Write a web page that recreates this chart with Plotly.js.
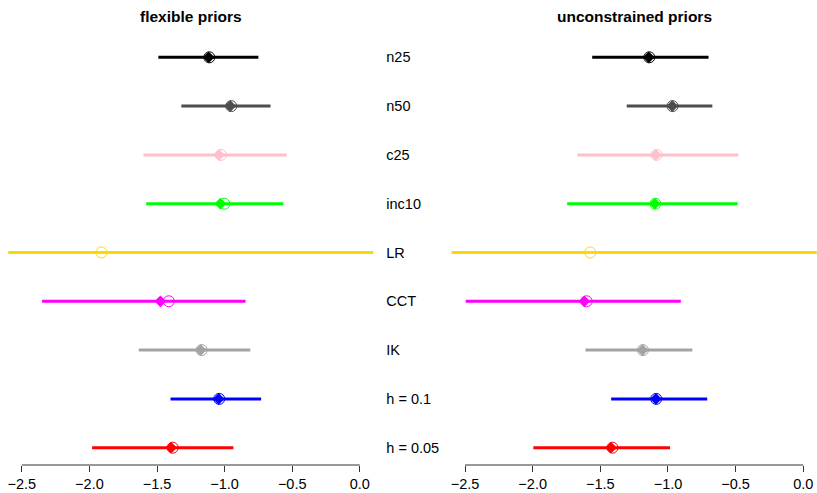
<!DOCTYPE html>
<html>
<head>
<meta charset="utf-8">
<script src="https://cdn.plot.ly/plotly-3.0.1.min.js"></script>
<style>html,body{margin:0;padding:0;background:#fff;}#chart{width:817px;height:493px;}</style>
</head>
<body>
<div id="chart"></div>
<script>
// Rows, top to bottom
const categories = ["n25", "n50", "c25", "inc10", "LR", "CCT", "IK", "h = 0.1", "h = 0.05"];
const colors = ["#000000", "#4D4D4D", "#FFC0CB", "#00FF00", "#FFD700", "#FF00FF", "#A3A3A3", "#0000FF", "#FF0000"];
const panelTitles = ["flexible priors", "unconstrained priors"];
const tickValues = [-2.5, -2.0, -1.5, -1.0, -0.5, 0.0];

// flexible priors
const flexLower    = [-1.49, -1.32, -1.60, -1.58, -2.90, -2.35, -1.635, -1.40, -1.98];
const flexUpper    = [-0.75, -0.66, -0.54, -0.565, 0.40, -0.845, -0.81, -0.73, -0.935];
const flexDiamond  = [-1.118, -0.958, -1.041, -1.032, null, -1.475, -1.177, -1.044, -1.396];
const flexCircle   = [-1.113, -0.951, -1.027, -1.002, -1.911, -1.413, -1.170, -1.040, -1.384];

// unconstrained priors
const uncLower     = [-1.56, -1.305, -1.67, -1.745, -2.90, -2.495, -1.61, -1.42, -1.995];
const uncUpper     = [-0.70, -0.672, -0.48, -0.485, 0.40, -0.905, -0.82, -0.71, -0.985];
const uncDiamond   = [-1.142, -0.968, -1.089, -1.097, null, -1.619, -1.188, -1.089, -1.421];
const uncCircle    = [-1.138, -0.966, -1.085, -1.093, -1.574, -1.601, -1.185, -1.087, -1.410];

const FONT = "Liberation Sans, Arial, Helvetica, sans-serif";
const traces = [];
function addPanel(lo, hi, dia, circ, xa, ya) {
  for (let i = 0; i < categories.length; i++) {
    traces.push({
      type: "scatter", mode: "lines", xaxis: xa, yaxis: ya,
      x: [lo[i], hi[i]], y: [categories[i], categories[i]],
      line: {color: colors[i], width: 3}, hoverinfo: "skip", showlegend: false
    });
  }
  traces.push({
    type: "scatter", mode: "markers", xaxis: xa, yaxis: ya,
    x: dia, y: categories,
    marker: {symbol: "diamond", size: 9, color: colors, line: {width: 0}},
    showlegend: false, hoverinfo: "skip", cliponaxis: true
  });
  traces.push({
    type: "scatter", mode: "markers", xaxis: xa, yaxis: ya,
    x: circ, y: categories,
    marker: {symbol: "circle-open", size: 11, color: colors, line: {width: 1, color: colors}},
    showlegend: false, hoverinfo: "skip", cliponaxis: true
  });
}
addPanel(flexLower, flexUpper, flexDiamond, flexCircle, "x", "y");
addPanel(uncLower, uncUpper, uncDiamond, uncCircle, "x2", "y2");

const catOrder = categories.slice().reverse();
const xBase = {
  range: [-2.6, 0.1], showgrid: false, zeroline: false, showline: false,
  ticks: "outside", ticklen: 6, tickcolor: "#333", tickwidth: 1,
  tickvals: tickValues, tickformat: ".1f",
  tickfont: {family: FONT, size: 14.5, color: "#000"}, fixedrange: true
};
const W = 817;
const layout = {
  width: 817, height: 493,
  margin: {l: 0, r: 0, t: 40.4, b: 28},
  paper_bgcolor: "#fff", plot_bgcolor: "#fff",
  showlegend: false,
  xaxis: Object.assign({}, xBase, {domain: [8.3 / W, 373.3 / W], anchor: "y"}),
  xaxis2: Object.assign({}, xBase, {domain: [451.5 / W, 816.8 / W], anchor: "y2"}),
  yaxis: {
    type: "category", categoryorder: "array", categoryarray: catOrder,
    range: [-0.355, 8.355], side: "right", anchor: "x",
    showgrid: false, zeroline: false, showline: false, ticks: "",
    ticklabelstandoff: 12,
    tickfont: {family: FONT, size: 14.5, color: "#000"}, fixedrange: true
  },
  yaxis2: {
    type: "category", categoryorder: "array", categoryarray: catOrder,
    range: [-0.355, 8.355], anchor: "x2",
    showgrid: false, zeroline: false, showline: false, ticks: "",
    showticklabels: false, fixedrange: true
  },
  shapes: [
    {type: "line", xref: "x", yref: "paper", x0: tickValues[0], x1: tickValues[tickValues.length - 1], y0: 0, y1: 0, line: {color: "#333", width: 1}},
    {type: "line", xref: "x2", yref: "paper", x0: tickValues[0], x1: tickValues[tickValues.length - 1], y0: 0, y1: 0, line: {color: "#333", width: 1}}
  ],
  annotations: [
    {text: "<b>" + panelTitles[0] + "</b>", xref: "x domain", yref: "paper", x: 0.5, y: 1, yshift: 24, xanchor: "center", yanchor: "middle", showarrow: false, font: {family: FONT, size: 15.5, color: "#000"}},
    {text: "<b>" + panelTitles[1] + "</b>", xref: "x2 domain", yref: "paper", x: 0.5, y: 1, yshift: 24, xanchor: "center", yanchor: "middle", showarrow: false, font: {family: FONT, size: 15.5, color: "#000"}}
  ]
};
Plotly.newPlot("chart", traces, layout, {staticPlot: true, displayModeBar: false});
</script>
</body>
</html>
